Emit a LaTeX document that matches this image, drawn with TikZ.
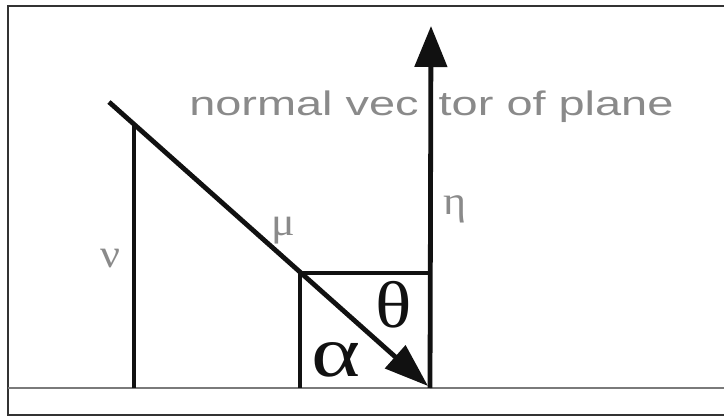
\documentclass[tikz,border=0pt]{standalone}
\usepackage{fontspec}
\setmainfont{Liberation Sans}
\newfontfamily\grk{Liberation Serif}
\usetikzlibrary{arrows.meta}
\definecolor{txtgrey}{HTML}{8A8A8A}
\definecolor{lineblack}{HTML}{111111}
\definecolor{basegrey}{HTML}{7A7A7A}
\definecolor{framegrey}{HTML}{333333}
\begin{document}
\begin{tikzpicture}[x=1pt,y=-1pt,
  framestyle/.style={draw=framegrey,line width=2pt},
  groundline/.style={draw=basegrey,line width=2.6pt},
  thickline/.style={draw=lineblack,line width=4.8pt},
  boxline/.style={draw=lineblack,line width=3.4pt},
  greylabel/.style={inner sep=0pt,text=txtgrey,font=\grk\fontsize{40}{40}\selectfont,xscale=1.1},
  blacklabel/.style={inner sep=0pt,text=lineblack},
  captiontext/.style={inner sep=0pt,text=txtgrey,font=\fontsize{34}{34}\selectfont,xscale=1.38,anchor=base west}]
\useasboundingbox (0,0) rectangle (724,417);
\fill[white] (0,0) rectangle (724,417);
% frame
\draw[framestyle] (8,6) rectangle (730,415);
% ground line
\coordinate (gl) at (8,388);
\coordinate (gr) at (724,388);
\draw[groundline] (gl) -- (gr);
% key points
\coordinate (start) at (109,102);
\coordinate (tip) at (428,386);
\coordinate (foot) at (430,388);
\coordinate (ntip) at (431,26);
\coordinate (nutop) at (134,124);
\coordinate (nubot) at (134,388);
\coordinate (corner) at (300,273);
\coordinate (cornerR) at (430,273);
\coordinate (cornerB) at (300,388);
% rectangle
\draw[boxline] (cornerB) -- (corner) -- (cornerR);
% nu line
\draw[thickline] (nubot) -- (nutop);
% normal vector
\draw[thickline,-{Triangle[length=41pt,width=32pt]}] (foot) -- (ntip);
% incident vector
\draw[thickline,-{Triangle[length=44pt,width=30pt]}] (start) -- (tip);
% labels
\node[captiontext] (cap) at (189,116) {normal vec\hspace{14.5pt}tor of plane};
\node[greylabel] (eta) at (455,209) {η};
\node[greylabel] (mu) at (283,231) {μ};
\node[greylabel] (nu) at (110.5,258.5) {ν};
\node[blacklabel,font=\grk\fontsize{66}{66}\selectfont,xscale=1.15] (theta) at (393.5,305) {θ};
\node[blacklabel,font=\grk\fontsize{72}{72}\selectfont,xscale=1.3] (alpha) at (336,360) {α};
\end{tikzpicture}
\end{document}
